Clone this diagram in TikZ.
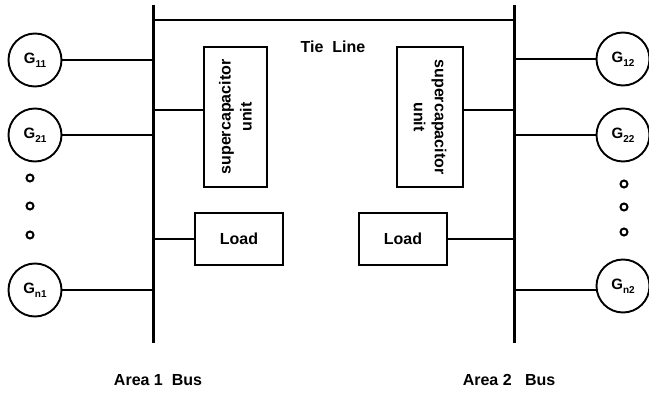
\documentclass[tikz,border=0pt]{standalone}
\usepackage{fontspec}
\setmainfont{Liberation Sans}
\usepackage{tikz}
\usetikzlibrary{positioning,calc}

\begin{document}
\begin{tikzpicture}[
    x=1pt, y=-1pt,
    gen/.style={circle, draw, line width=1.9pt, minimum size=53pt, inner sep=0pt,
        font=\fontsize{15}{17}\selectfont\bfseries},
    dot/.style={circle, draw, line width=2pt, minimum size=7pt, inner sep=0pt},
    unitbox/.style={rectangle, draw, line width=1.9pt, align=center,
        font=\fontsize{16}{21}\selectfont\bfseries},
    busline/.style={line width=3pt},
    link/.style={-, line width=2.2pt}
]
    \useasboundingbox (0,0) rectangle (649,393);

    % buses and tie line
    \coordinate (bus1top) at (153,5);
    \coordinate (bus1bot) at (153,343);
    \coordinate (bus2top) at (514,5);
    \coordinate (bus2bot) at (514,343);
    \draw[busline] (bus1top) -- (bus1bot);
    \draw[busline] (bus2top) -- (bus2bot);
    \draw[link] ($(bus1top)+(0,15)$) -- ($(bus2top)+(0,15)$);
    \node[font=\fontsize{16}{20}\selectfont\bfseries] (tie) at (333,47) {Tie\ \ Line};

    % area 1
    \node[gen] (g11) at (35,60) {G\raisebox{-0.45ex}{\fontsize{10}{11}\selectfont 11}};
    \node[gen] (g21) at (35,135) {G\raisebox{-0.45ex}{\fontsize{10}{11}\selectfont 21}};
    \node[dot] (d11) at (30,178) {};
    \node[dot] (d12) at (30,206) {};
    \node[dot] (d13) at (30,235) {};
    \node[gen] (gn1) at (35,290) {G\raisebox{-0.45ex}{\fontsize{10}{11}\selectfont n1}};
    \draw[link] (g11) -- (g11 -| bus1top);
    \draw[link] (g21) -- (g21 -| bus1top);
    \draw[link] (gn1) -- (gn1 -| bus1top);

    \node[unitbox, rotate=90, minimum width=140pt, minimum height=63pt] (sc1) at (235.5,117) {supercapacitor\\unit};
    \coordinate (sc1in) at ([yshift=7pt]sc1.north);
    \draw[link] (sc1in) -- (sc1in -| bus1top);
    \node[unitbox, minimum width=88pt, minimum height=52pt] (load1) at (239,239) {Load};
    \draw[link] (load1) -- (load1 -| bus1top);

    % area 2
    \node[gen] (g12) at (623,59) {G\raisebox{-0.45ex}{\fontsize{10}{11}\selectfont 12}};
    \node[gen] (g22) at (623,135) {G\raisebox{-0.45ex}{\fontsize{10}{11}\selectfont 22}};
    \node[dot] (d21) at (624,184) {};
    \node[dot] (d22) at (624,207) {};
    \node[dot] (d23) at (624,232) {};
    \node[gen] (gn2) at (623,286) {G\raisebox{-0.45ex}{\fontsize{10}{11}\selectfont n2}};
    \draw[link] (g12) -- (g12 -| bus2top);
    \draw[link] (g22) -- (g22 -| bus2top);
    \draw[link] (gn2.west |- 0,290) -- (bus2top |- 0,290);

    \node[unitbox, rotate=-90, minimum width=140pt, minimum height=66pt] (sc2) at (430,117) {supercapacitor\\unit};
    \coordinate (sc2in) at ([yshift=7pt]sc2.north);
    \draw[link] (sc2in) -- (sc2in -| bus2top);
    \node[unitbox, minimum width=88pt, minimum height=52pt] (load2) at (403,239) {Load};
    \draw[link] (load2) -- (load2 -| bus2top);

    % labels
    \node[font=\fontsize{16}{19}\selectfont\bfseries] (area1) at (158,380) {Area 1\ \ Bus};
    \node[font=\fontsize{16}{19}\selectfont\bfseries] (area2) at (509,380) {Area 2\ \ \ Bus};
\end{tikzpicture}
\end{document}
